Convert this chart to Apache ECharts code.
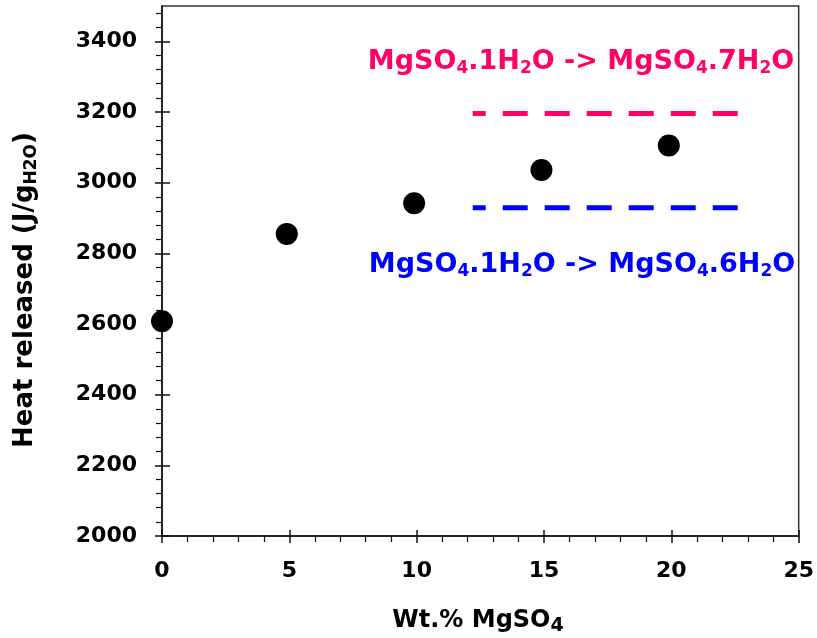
<!DOCTYPE html>
<html><head><meta charset="utf-8">
<script src="https://cdn.jsdelivr.net/npm/echarts@6/dist/echarts.min.js"></script>
<style>html,body{margin:0;padding:0;background:#fff}#c{width:817px;height:638px}</style>
</head><body><div id="c"></div>
<script>
// ---- data ----
const wtPct = [0, 4.9, 9.9, 14.9, 19.9];
const heatReleased = [2608, 2855, 2942, 3036, 3105];
const heptaLevel = 3196;   // MgSO4.1H2O -> MgSO4.7H2O
const hexaLevel = 2929;    // MgSO4.1H2O -> MgSO4.6H2O
const refLineX = [12.2, 22.65];
const xTicks = [0, 5, 10, 15, 20, 25];
const yTicks = [2000, 2200, 2400, 2600, 2800, 3000, 3200, 3400];
const xMinor = []; for (let v = 1; v < 25; v++) if (v % 5) xMinor.push(v);
const yMinor = []; for (let v = 2040; v < 3500; v += 40) if ((v - 2000) % 200) yMinor.push(v);

const FONT = '"DejaVu Sans", "Liberation Sans", Arial, sans-serif';
const PINK = '#FF0066', BLUE = '#0000FF', AX = '#111';

const chart = echarts.init(document.getElementById('c'));

function xAxisBase(extra) {
  return Object.assign({
    type: 'value', min: 0, max: 25, position: 'bottom', offset: 0,
    splitLine: { show: false },
    axisLine: { show: false },
    axisLabel: { show: false },
    axisTick: { show: false }
  }, extra);
}
function yAxisBase(extra) {
  return Object.assign({
    type: 'value', min: 2000, max: 3500, position: 'left', offset: 0,
    splitLine: { show: false },
    axisLine: { show: false },
    axisLabel: { show: false },
    axisTick: { show: false }
  }, extra);
}

const refStyle = (color) => ({ color: color, width: 5, type: [25, 17], dashOffset: 12, cap: 'butt' });
const plain = (v) => String(v);

chart.setOption({
  animation: false,
  backgroundColor: '#fff',
  grid: { left: 162, right: 18, top: 6, bottom: 102, show: true, borderColor: '#333', borderWidth: 1.5, containLabel: false },
  xAxis: [
    xAxisBase({
      axisLine: { show: true, onZero: false, lineStyle: { color: AX, width: 1.5 } },
      axisTick: { show: true, inside: false, length: 7, customValues: xTicks, lineStyle: { color: AX, width: 1.5 } },
      axisLabel: { show: true, customValues: xTicks, formatter: plain, margin: 24, color: '#000', fontFamily: FONT, fontWeight: 'bold', fontSize: 22 }
    }),
    xAxisBase({ axisTick: { show: true, inside: true, length: 6, customValues: xTicks, lineStyle: { color: AX, width: 1.5 } } }),
    xAxisBase({ axisTick: { show: true, inside: false, length: 6, customValues: xMinor, lineStyle: { color: AX, width: 1.2 } } })
  ],
  yAxis: [
    yAxisBase({
      axisLine: { show: true, onZero: false, lineStyle: { color: AX, width: 1.5 } },
      axisTick: { show: true, inside: false, length: 7, customValues: yTicks, lineStyle: { color: AX, width: 1.5 } },
      axisLabel: { show: true, customValues: yTicks, formatter: plain, margin: 25, color: '#000', fontFamily: FONT, fontWeight: 'bold', fontSize: 22 }
    }),
    yAxisBase({ axisTick: { show: true, inside: true, length: 8, customValues: yTicks, lineStyle: { color: AX, width: 1.5 } } }),
    yAxisBase({ axisTick: { show: true, inside: false, length: 6, customValues: yMinor, lineStyle: { color: AX, width: 1.2 } } })
  ],
  series: [
    {
      type: 'line', xAxisIndex: 0, yAxisIndex: 0, symbol: 'none', silent: true,
      data: refLineX.map(x => [x, heptaLevel]), lineStyle: refStyle(PINK)
    },
    {
      type: 'line', xAxisIndex: 0, yAxisIndex: 0, symbol: 'none', silent: true,
      data: refLineX.map(x => [x, hexaLevel]), lineStyle: refStyle(BLUE)
    },
    {
      type: 'scatter', xAxisIndex: 0, yAxisIndex: 0, symbol: 'circle', symbolSize: 22,
      itemStyle: { color: '#000', opacity: 1 },
      data: wtPct.map((x, i) => [x, heatReleased[i]])
    }
  ],
  graphic: [
    {
      type: 'text', x: 581, y: 62, silent: true,
      style: {
        text: '{m|MgSO}{s|4}{m|.1H}{s|2}{m|O -> MgSO}{s|4}{m|.7H}{s|2}{m|O}',
        align: 'center', verticalAlign: 'middle',
        rich: {
          m: { fontFamily: FONT, fontWeight: 'bold', fontSize: 27, lineHeight: 30, fill: PINK, color: PINK },
          s: { fontFamily: FONT, fontWeight: 'bold', fontSize: 17, lineHeight: 19, verticalAlign: 'bottom', fill: PINK, color: PINK }
        }
      }
    },
    {
      type: 'text', x: 582, y: 265, silent: true,
      style: {
        text: '{m|MgSO}{s|4}{m|.1H}{s|2}{m|O -> MgSO}{s|4}{m|.6H}{s|2}{m|O}',
        align: 'center', verticalAlign: 'middle',
        rich: {
          m: { fontFamily: FONT, fontWeight: 'bold', fontSize: 27, lineHeight: 30, fill: BLUE, color: BLUE },
          s: { fontFamily: FONT, fontWeight: 'bold', fontSize: 17, lineHeight: 19, verticalAlign: 'bottom', fill: BLUE, color: BLUE }
        }
      }
    },
    {
      type: 'text', x: 478, y: 621, silent: true,
      style: {
        text: '{m|Wt.% MgSO}{s|4}',
        align: 'center', verticalAlign: 'middle',
        rich: {
          m: { fontFamily: FONT, fontWeight: 'bold', fontSize: 24, lineHeight: 30, fill: '#000', color: '#000' },
          s: { fontFamily: FONT, fontWeight: 'bold', fontSize: 19, lineHeight: 17, verticalAlign: 'bottom', fill: '#000', color: '#000' }
        }
      }
    },
    {
      type: 'text', x: 25, y: 290, rotation: Math.PI / 2, silent: true,
      style: {
        text: '{m|Heat released (J/g}{s|H2O}{m|)}',
        align: 'center', verticalAlign: 'middle',
        rich: {
          m: { fontFamily: FONT, fontWeight: 'bold', fontSize: 26, lineHeight: 30, fill: '#000', color: '#000' },
          s: { fontFamily: FONT, fontWeight: 'bold', fontSize: 17, lineHeight: 19, verticalAlign: 'bottom', fill: '#000', color: '#000' }
        }
      }
    }
  ]
});
</script>
</body></html>
